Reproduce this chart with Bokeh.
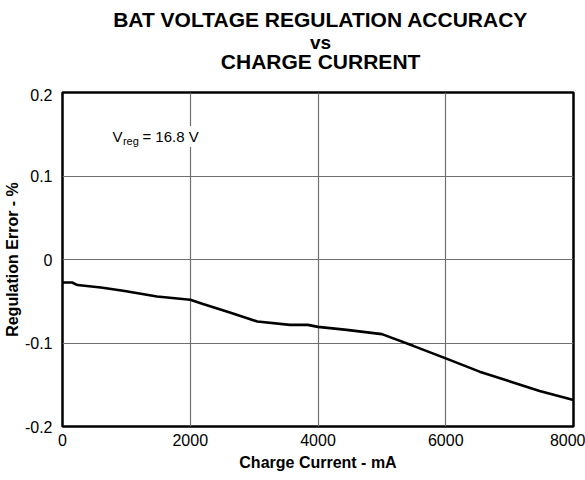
from bokeh.plotting import figure
from bokeh.models import Range1d, FixedTicker, Label
from bokeh.layouts import column
from bokeh.embed import file_html
from bokeh.resources import INLINE
from bokeh.core.properties import value

# ---- data ----
current_ma = [0, 150, 235, 600, 950, 1480, 2000, 2200, 2620, 3050, 3560, 3840,
              4000, 4450, 5000, 5490, 6000, 6530, 7470, 8000]
reg_error = [-0.0275, -0.0275, -0.0306, -0.0335, -0.0375, -0.0443, -0.0483,
             -0.0534, -0.0635, -0.0743, -0.0783, -0.0783, -0.0807, -0.0843,
             -0.0894, -0.1034, -0.1184, -0.1343, -0.1574, -0.1682]

x_ticks = [0, 2000, 4000, 6000, 8000]
x_tick_labels = ["0", "2000", "4000", "6000", "8000"]
y_ticks = [-0.2, -0.1, 0, 0.1, 0.2]
y_tick_labels = ["-0.2", "-0.1", "0", "0.1", "0.2"]

title_lines = ["BAT VOLTAGE REGULATION ACCURACY", "vs", "CHARGE CURRENT"]
x_label = "Charge Current - mA"
y_label = "Regulation Error - %"

FONT = "Liberation Sans"
W = 585
TOP_H = 88

# ---- title strip (pixel-like coordinates, y measured from top) ----
tp = figure(width=W, height=TOP_H, output_backend="svg", toolbar_location=None,
            title=None, x_range=Range1d(0, W), y_range=Range1d(TOP_H, 0),
            x_axis_type=None, y_axis_type=None,
            min_border=0, min_border_left=0, min_border_right=0,
            min_border_top=0, min_border_bottom=0)
tp.grid.visible = False
tp.outline_line_color = None
tp.background_fill_color = "white"
tp.border_fill_color = "white"
title_x = 295.5
title_y = [18.7, 42.0, 61.0]
title_sizes = ["21px", "19px", "21px"]
for txt, ty, fs in zip(title_lines, title_y, title_sizes):
    tp.text(x=[title_x], y=[ty], text=[txt], text_font_size=fs,
            text_align="center", text_baseline="alphabetic",
            text_font=value(FONT), text_font_style="bold", text_color="black")

# ---- main plot ----
p = figure(width=W, height=480 - TOP_H, output_backend="svg", toolbar_location=None,
           x_range=Range1d(0, 8000), y_range=Range1d(-0.2, 0.2),
           min_border_left=62, min_border_right=12, min_border_top=4,
           min_border_bottom=54)
p.background_fill_color = "white"
p.border_fill_color = "white"
p.outline_line_color = "black"
p.outline_line_width = 2.5

p.xaxis.ticker = FixedTicker(ticks=x_ticks)
p.yaxis.ticker = FixedTicker(ticks=y_ticks)
p.xaxis.major_label_overrides = {t: l for t, l in zip(x_ticks, x_tick_labels)}
p.yaxis.major_label_overrides = {t: l for t, l in zip(y_ticks, y_tick_labels)}
for ax in (p.xaxis, p.yaxis):
    ax.axis_line_color = None
    ax.major_tick_line_color = None
    ax.minor_tick_line_color = None
    ax.major_tick_out = 0
    ax.major_tick_in = 0
    ax.minor_tick_out = 0
    ax.minor_tick_in = 0
    ax.major_label_text_font = FONT
    ax.major_label_text_font_size = "16px"
    ax.major_label_text_color = "black"
    ax.axis_label_text_font = FONT
    ax.axis_label_text_font_style = "bold"
    ax.axis_label_text_font_size = "16px"
    ax.axis_label_text_color = "black"
p.xaxis.major_label_standoff = 7
p.yaxis.major_label_standoff = 10
p.xaxis.axis_label = x_label
p.yaxis.axis_label = y_label
p.xaxis.axis_label_standoff = 5
p.yaxis.axis_label_standoff = 1

p.xgrid.grid_line_color = "#707070"
p.ygrid.grid_line_color = "#707070"
p.xgrid.grid_line_width = 1.2
p.ygrid.grid_line_width = 1.2

p.line(current_ma, reg_error, line_color="black", line_width=2.6)

# Annotation V_reg = 16.8 V
ann_x, ann_y = 750, 0.1472
parts = [(" = 16.8 V", 30, 0, "15px", "white"), ("V", 0, 0, "15px", None),
         ("reg", 10.5, -4, "11px", None)]
for txt, dx, dy, fs, bg in parts:
    p.add_layout(Label(x=ann_x, y=ann_y, x_offset=dx, y_offset=dy, text=txt,
                       text_align="left", text_baseline="alphabetic",
                       text_font=FONT, text_font_size=fs, text_color="black",
                       background_fill_color=bg, padding=2))

layout = column(tp, p, spacing=0)
open("out.html", "w").write(file_html(layout, INLINE))
